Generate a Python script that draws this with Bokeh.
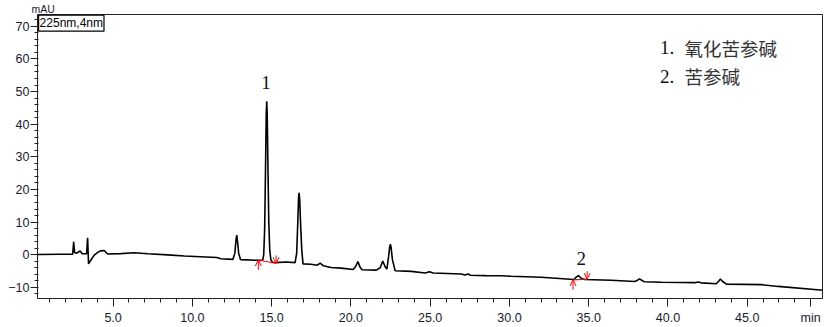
from bokeh.plotting import figure
from bokeh.models import Range1d, FixedTicker, SingleIntervalTicker, Label, Arrow, OpenHead
from bokeh.embed import file_html
from bokeh.resources import INLINE

# chromatogram trace (time in min, signal in mAU)
time = [0.2, 1.7, 2.45, 2.51, 2.57, 2.70, 2.92, 3.05, 3.33, 3.39, 3.45, 3.60, 3.81, 4.05, 4.23, 4.44, 4.65,
        5.5, 6.33, 7.2, 8.44, 9.5, 10.5, 11.55, 11.8, 12.56, 12.68, 12.75, 12.80, 12.85, 12.92, 13.04,
        14.0, 14.44, 14.50, 14.56, 14.61, 14.66, 14.69, 14.72, 14.77, 14.82, 14.88, 14.95, 15.05, 15.28,
        15.9, 16.48, 16.58, 16.65, 16.70, 16.73, 16.77, 16.83, 16.90, 16.98, 17.48, 17.87, 18.06, 18.25,
        18.75, 19.38, 20.14, 20.30, 20.44, 20.58, 20.71, 21.6, 21.85, 22.01, 22.15, 22.27, 22.38, 22.45,
        22.49, 22.53, 22.62, 22.79, 23.8, 24.68, 24.96, 25.19, 26.96, 27.2, 27.38, 27.55, 28.5, 29.5,
        30.1, 32.0, 34.07, 34.2, 34.36, 34.52, 34.74, 36.43, 37.9, 38.05, 38.21, 38.37, 38.51, 39.58,
        40.85, 41.7, 41.9, 42.1, 43.05, 43.2, 43.31, 43.45, 43.69, 45.9, 46.95, 49.81]
signal = [0.1, 0.15, 0.15, 4.0, 0.7, 0.5, 1.15, 0.3, 0.3, 5.2, -2.8, -1.6, -0.1, 0.8, 1.2, 1.3, 0.25,
          0.35, 0.6, 0.3, -0.05, -0.4, -0.6, -0.85, -1.2, -1.4, 0.5, 4.5, 6.0, 4.0, 0.5, -1.5,
          -1.7, -1.6, 0.0, 8.0, 25.0, 43.0, 47.0, 43.0, 26.0, 10.0, 1.5, -1.5, -2.3, -2.4,
          -2.2, -2.4, 0.5, 10.0, 17.5, 19.0, 17.0, 9.0, 1.5, -2.8, -2.9, -3.2, -2.6, -3.35,
          -3.9, -4.1, -4.5, -3.6, -2.1, -3.8, -4.6, -4.7, -4.0, -1.9, -3.6, -4.4, -0.5, 2.5,
          3.2, 2.5, -1.5, -4.9, -5.1, -5.6, -5.2, -5.6, -5.9, -6.2, -5.9, -6.3, -6.4, -6.45,
          -6.6, -6.9, -7.6, -6.9, -6.35, -7.2, -7.6, -7.8, -8.2, -7.9, -7.4, -7.9, -8.25, -8.4,
          -8.5, -8.55, -8.35, -8.6, -8.9, -8.1, -7.4, -8.2, -9.0, -9.15, -9.7, -10.9]

# x axis: labelled ticks (the last one carries the unit) and minor ticks
x_major = [5, 10, 15, 20, 25, 30, 35, 40, 45, 49]
x_major_labels = ["5.0", "10.0", "15.0", "20.0", "25.0", "30.0", "35.0", "40.0", "45.0", "min"]
x_minor = [m for m in range(1, 50) if m % 5 != 0 and m != 49]

# integration marks of the two labelled peaks: start / end (time, mAU)
int_start_t = [14.16, 34.01]
int_start_v = [-1.6, -7.7]
int_end_t = [15.28, 34.90]
int_end_v = [-2.6, -7.45]

peak_names = ["1", "2"]
peak_label_t = [14.65, 34.53]
peak_label_v = [52.9, -1.1]

legend_nums = ["1.", "2."]
legend_names = ["氧化苦参碱", "苦参碱"]

p = figure(width=839, height=327, output_backend="svg", toolbar_location=None,
           x_range=Range1d(0.23, 49.75), y_range=Range1d(-13.4, 73.6),
           min_border_left=37, min_border_right=17, min_border_top=12, min_border_bottom=27)
p.background_fill_color = "white"
p.border_fill_color = "white"
p.grid.visible = False
p.outline_line_color = "#222222"
p.outline_line_width = 1

# unit of the y axis, shown above its top end
p.title.text = "mAU"
p.title.align = "left"
p.title.offset = -6
p.title.standoff = 0
p.title.text_font = "Liberation Sans"
p.title.text_font_size = "10.5px"
p.title.text_font_style = "normal"
p.title.text_color = "#1a1a2e"

p.line(time, signal, line_color="black", line_width=1.6)

# red integration baselines and arrows
p.segment(x0=int_start_t, y0=int_start_v, x1=int_end_t, y1=int_end_v, line_color="red", line_width=1.2)
for ts, vs in zip(int_start_t, int_start_v):
    p.add_layout(Arrow(end=OpenHead(size=6, line_color="red", line_width=1),
                       x_start=ts, y_start=vs - 3.0, x_end=ts, y_end=vs,
                       line_color="red", line_width=1))
for te, ve in zip(int_end_t, int_end_v):
    p.add_layout(Arrow(end=OpenHead(size=6, line_color="red", line_width=1),
                       x_start=te, y_start=ve + 2.4, x_end=te, y_end=ve,
                       line_color="red", line_width=1))

# axes
xa = p.xaxis[0]
xa.ticker = FixedTicker(ticks=x_major, minor_ticks=x_minor)
xa.major_label_overrides = {t: lab for t, lab in zip(x_major, x_major_labels)}
ya = p.yaxis[0]
ya.ticker = SingleIntervalTicker(interval=10, num_minor_ticks=5)
for ax in (xa, ya):
    ax.axis_line_color = "#222222"
    ax.major_tick_line_color = "#222222"
    ax.minor_tick_line_color = "#222222"
    ax.major_label_text_font = "Liberation Sans"
    ax.major_label_text_font_size = "12.5px"
    ax.major_label_text_color = "#1a1a2e"
    ax.major_tick_in = 0
xa.major_tick_out = 8
xa.minor_tick_out = 4
xa.minor_tick_in = 0
xa.major_label_standoff = 4
ya.major_tick_out = 7
ya.minor_tick_out = 3
ya.minor_tick_in = 1
ya.major_label_standoff = 1

# texts
p.add_layout(Label(x=0.30, y=73.4, text="225nm,4nm", text_font="Liberation Sans", text_font_size="12px",
                   text_align="left", text_baseline="top", text_color="black",
                   border_line_color="black", border_line_width=1.2, background_fill_color="white",
                   padding=1))

for name, tt, vv in zip(peak_names, peak_label_t, peak_label_v):
    p.add_layout(Label(x=tt, y=vv, text=name, text_font="Liberation Serif", text_font_size="19px",
                       text_align="center", text_baseline="middle", text_color="#111122"))

leg_t_num = 39.5
leg_t_name = 41.05
leg_v = [63.4, 54.7]
for num, nm, vv in zip(legend_nums, legend_names, leg_v):
    p.add_layout(Label(x=leg_t_num, y=vv, text=num, text_font="Liberation Serif", text_font_size="19px",
                       text_align="left", text_baseline="middle", text_color="#111111"))
    p.add_layout(Label(x=leg_t_name, y=vv, text=nm, text_font="Noto Sans CJK SC", text_font_size="18.5px",
                       text_align="left", text_baseline="middle", text_color="#333333"))

open("out.html", "w").write(file_html(p, INLINE))
